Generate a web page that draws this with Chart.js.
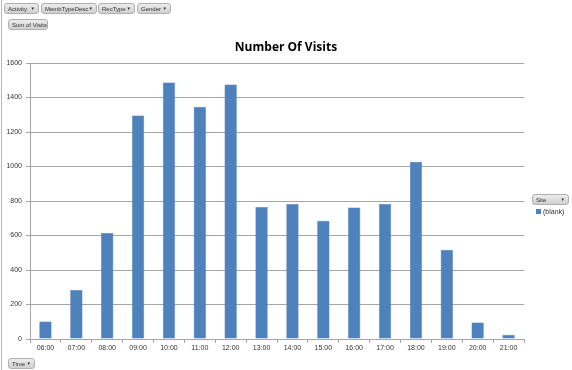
<!DOCTYPE html>
<html>
<head>
<meta charset="utf-8">
<script src="https://cdn.jsdelivr.net/npm/chart.js@4"></script>
<style>
  html, body { margin: 0; padding: 0; background: #fff; }
  #wrap { position: relative; width: 572px; height: 370px; overflow: hidden; font-family: "Liberation Sans", Arial, sans-serif; }
  #wrap:before { content: ""; position: absolute; left: 1px; top: 0; bottom: 0; width: 1px; background: #b8b8b8; }
  canvas { position: absolute; left: 0; top: 0; }
  .btn { position: absolute; height: 11px; line-height: 10px; font-size: 6px; color: #333; box-sizing: border-box;
         background: linear-gradient(#ececec, #cfcfcf); border: 1px solid #b0b0b0; border-radius: 3px;
         padding: 0 3px; white-space: nowrap; overflow: hidden; }
  .btn .arr { position: absolute; right: 3px; top: 0; font-size: 4.5px; }
  #title { position: absolute; left: 0; width: 572px; top: 38px; text-align: center; font-weight: bold; font-size: 12px; color: #000;
           font-family: "Open Sans", "Liberation Sans", sans-serif; }
  #legend { position: absolute; left: 536px; top: 208px; font-size: 7px; color: #333; white-space: nowrap; }
  #legend .sw { display: inline-block; width: 5px; height: 5px; background: #4f81bd; margin-right: 2px; }
</style>
</head>
<body>
<div id="wrap">
  <canvas id="c" width="572" height="370"></canvas>
  <div class="btn" style="left:4px;top:3px;width:35px;">Activity<span class="arr">&#9660;</span></div>
  <div class="btn" style="left:41px;top:3px;width:56px;">MembTypeDesc<span class="arr">&#9660;</span></div>
  <div class="btn" style="left:98px;top:3px;width:37px;">RecType<span class="arr">&#9660;</span></div>
  <div class="btn" style="left:137px;top:3px;width:34px;">Gender<span class="arr">&#9660;</span></div>
  <div class="btn" style="left:8px;top:19px;width:40px;">Sum of Visits</div>
  <div class="btn" style="left:8px;top:358px;width:27px;">Time<span class="arr">&#9660;</span></div>
  <div class="btn" style="left:532px;top:194px;width:37px;">Site<span class="arr">&#9660;</span></div>
  <div id="title">Number Of Visits</div>
  <div id="legend"><span class="sw"></span>(blank)</div>
</div>
<script>
const categories = ["06:00","07:00","08:00","09:00","10:00","11:00","12:00","13:00","14:00","15:00","16:00","17:00","18:00","19:00","20:00","21:00"];
const visits = [102, 284, 615, 1296, 1487, 1346, 1476, 765, 783, 686, 762, 783, 1028, 517, 96, 25];
const yTicks = [0, 200, 400, 600, 800, 1000, 1200, 1400, 1600];
const seriesName = "(blank)";

const gridColor = "#a6a6a6";
new Chart(document.getElementById("c"), {
  type: "bar",
  data: {
    labels: categories,
    datasets: [{
      label: seriesName,
      data: visits,
      backgroundColor: "#4f81bd",
      borderColor: "#4576b3",
      borderWidth: 0.5,
      barPercentage: 0.4,
      categoryPercentage: 1.0
    }]
  },
  options: {
    responsive: false,
    animation: false,
    devicePixelRatio: 1,
    layout: { padding: { left: 2, right: 48, top: 63, bottom: 0 } },
    plugins: { legend: { display: false }, title: { display: false }, tooltip: { enabled: false } },
    scales: {
      x: {
        offset: true,
        afterFit: s => { s.height = 31; },
        grid: { offset: true, drawOnChartArea: false, drawTicks: true, tickLength: 4, color: gridColor, tickColor: gridColor },
        border: { display: true, color: gridColor },
        ticks: { color: "#333", font: { family: "Liberation Sans", size: 7 }, padding: 1, maxRotation: 0, autoSkip: false }
      },
      y: {
        min: 0, max: 1600,
        afterFit: s => { s.width = 28; },
        afterBuildTicks: s => { s.ticks = yTicks.map(v => ({ value: v })); },
        grid: { color: gridColor, tickLength: 4, tickColor: gridColor },
        border: { display: true, color: gridColor },
        ticks: { color: "#333", font: { family: "Liberation Sans", size: 7 }, padding: 4, callback: v => String(v) }
      }
    }
  }
});
</script>
</body>
</html>
